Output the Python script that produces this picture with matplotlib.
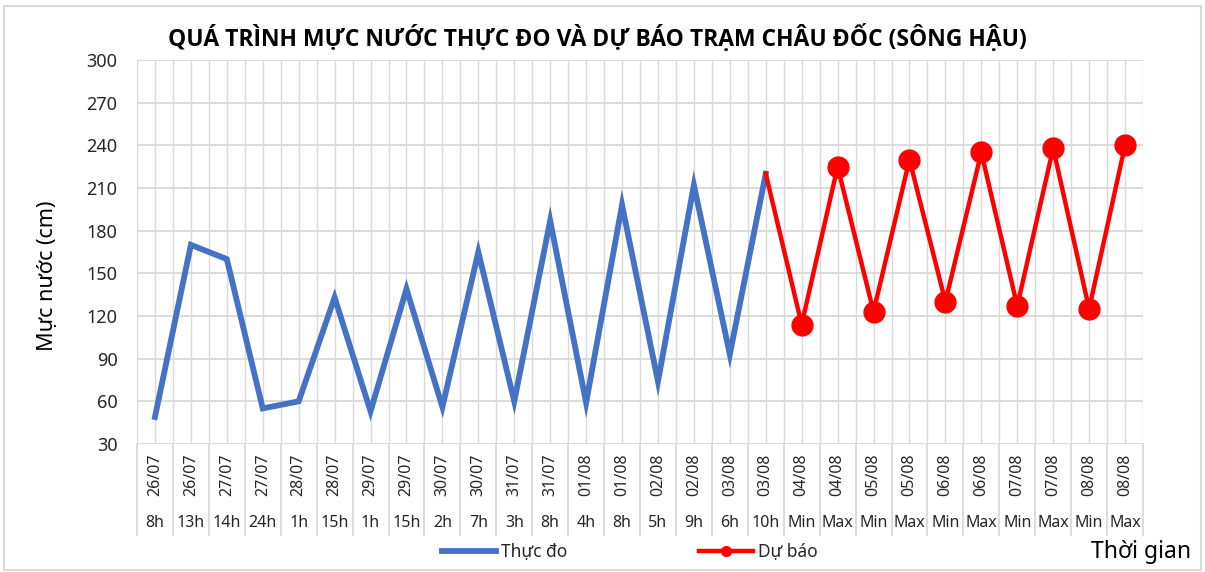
import matplotlib
matplotlib.use("Agg")
import matplotlib.pyplot as plt
from matplotlib.lines import Line2D
from matplotlib.patches import Rectangle
import matplotlib.transforms as mtransforms
import numpy as np

plt.rcParams['font.family'] = ['Noto Sans', 'DejaVu Sans']

dates = ["26/07", "26/07", "27/07", "27/07", "28/07", "28/07", "29/07", "29/07",
         "30/07", "30/07", "31/07", "31/07", "01/08", "01/08", "02/08", "02/08",
         "03/08", "03/08", "04/08", "04/08", "05/08", "05/08", "06/08", "06/08",
         "07/08", "07/08", "08/08", "08/08"]
hours = ["8h", "13h", "14h", "24h", "1h", "15h", "1h", "15h", "2h", "7h", "3h", "8h",
         "4h", "8h", "5h", "9h", "6h", "10h", "Min", "Max", "Min", "Max", "Min", "Max",
         "Min", "Max", "Min", "Max"]
observed = [49, 170, 160, 55, 60, 133, 53, 139, 56, 165, 60, 187, 59, 198, 74, 212, 93, 220]
forecast_start = 220
forecast = [114, 225, 123, 230, 130, 235, 127, 238, 125, 240]

W, H = 1205, 572
fig = plt.figure(figsize=(W / 100, H / 100), dpi=100)
ax = fig.add_axes([137 / W, 1 - 444 / H, (1143 - 137) / W, (444 - 60) / H])

n = len(dates)
x = np.arange(n)
x_obs = x[:len(observed)]
x_fc = x[len(observed) - 1:]
y_fc = [forecast_start] + forecast

ax.plot(x_obs, observed, color="#4472C4", lw=4.2, solid_joinstyle="miter", zorder=3)
ax.plot(x_fc, y_fc, color="#FF0000", lw=3.2, marker="o", markersize=15,
        markevery=list(range(1, len(y_fc))), zorder=4, clip_on=False)

ax.set_xlim(-0.5, n - 0.5)
ax.set_ylim(30, 300)
ax.set_yticks(np.arange(30, 301, 30))
ax.tick_params(axis="y", length=0, labelsize=13, pad=14, colors="#262626")
ax.tick_params(axis="x", length=0, labelbottom=False)

# gridlines at category boundaries and centres
for gx in np.arange(-0.5, n, 0.5):
    ax.axvline(gx, color="#D9D9D9", lw=1.0, zorder=1)
for gy in np.arange(30, 301, 30):
    ax.axhline(gy, color="#D9D9D9", lw=1.3, zorder=1)
for s in ax.spines.values():
    s.set_visible(False)

# two-level category labels
trans = mtransforms.blended_transform_factory(ax.transData, ax.transAxes)
ax_h = 444 - 60
def ay(py):
    return (444 - py) / ax_h
for i in range(n):
    ax.text(x[i], ay(475), dates[i], transform=trans, rotation=90, ha="center",
            va="center", fontsize=11.5, color="#262626")
    ax.text(x[i], ay(523), hours[i], transform=trans, ha="center", va="center",
            fontsize=11.5, color="#262626")
for b in np.arange(-0.5, n, 1.0):
    ax.plot([b, b], [0, ay(535)], transform=trans, color="#D9D9D9", lw=1.3,
            clip_on=False, zorder=1)

fig.text(597 / W, 1 - 38 / H, "QUÁ TRÌNH MỰC NƯỚC THỰC ĐO VÀ DỰ BÁO TRẠM CHÂU ĐỐC (SÔNG HẬU)",
         ha="center", va="center", fontsize=16.5, fontweight="bold", color="#000000",
         family=["Open Sans", "DejaVu Sans"])
fig.text(48 / W, 1 - 276 / H, "Mực nước (cm)", rotation=90, ha="center", va="center",
         fontsize=15.5, color="#000000")
fig.text(1141 / W, 1 - 552 / H, "Thời gian", ha="center", va="center",
         fontsize=16.5, color="#000000")

h1 = Line2D([], [], color="#4472C4", lw=4.2)
h2 = Line2D([], [], color="#FF0000", lw=3.2, marker="o", markersize=7)
leg = fig.legend([h1, h2], ["Thực đo", "Dự báo"], loc="center left",
                 bbox_to_anchor=(442 / W, 1 - 552 / H), ncol=2, frameon=False,
                 fontsize=12.5, handlelength=3.1, handletextpad=0.3,
                 columnspacing=7.6, borderpad=0, borderaxespad=0)
for t in leg.get_texts():
    t.set_color("#262626")

fig.patches.append(Rectangle((4 / W, 2 / H), (W - 8) / W, (H - 8) / H,
                             transform=fig.transFigure, fill=False,
                             edgecolor="#D9D9D9", lw=1.5))

fig.savefig("out.png", dpi=100)
